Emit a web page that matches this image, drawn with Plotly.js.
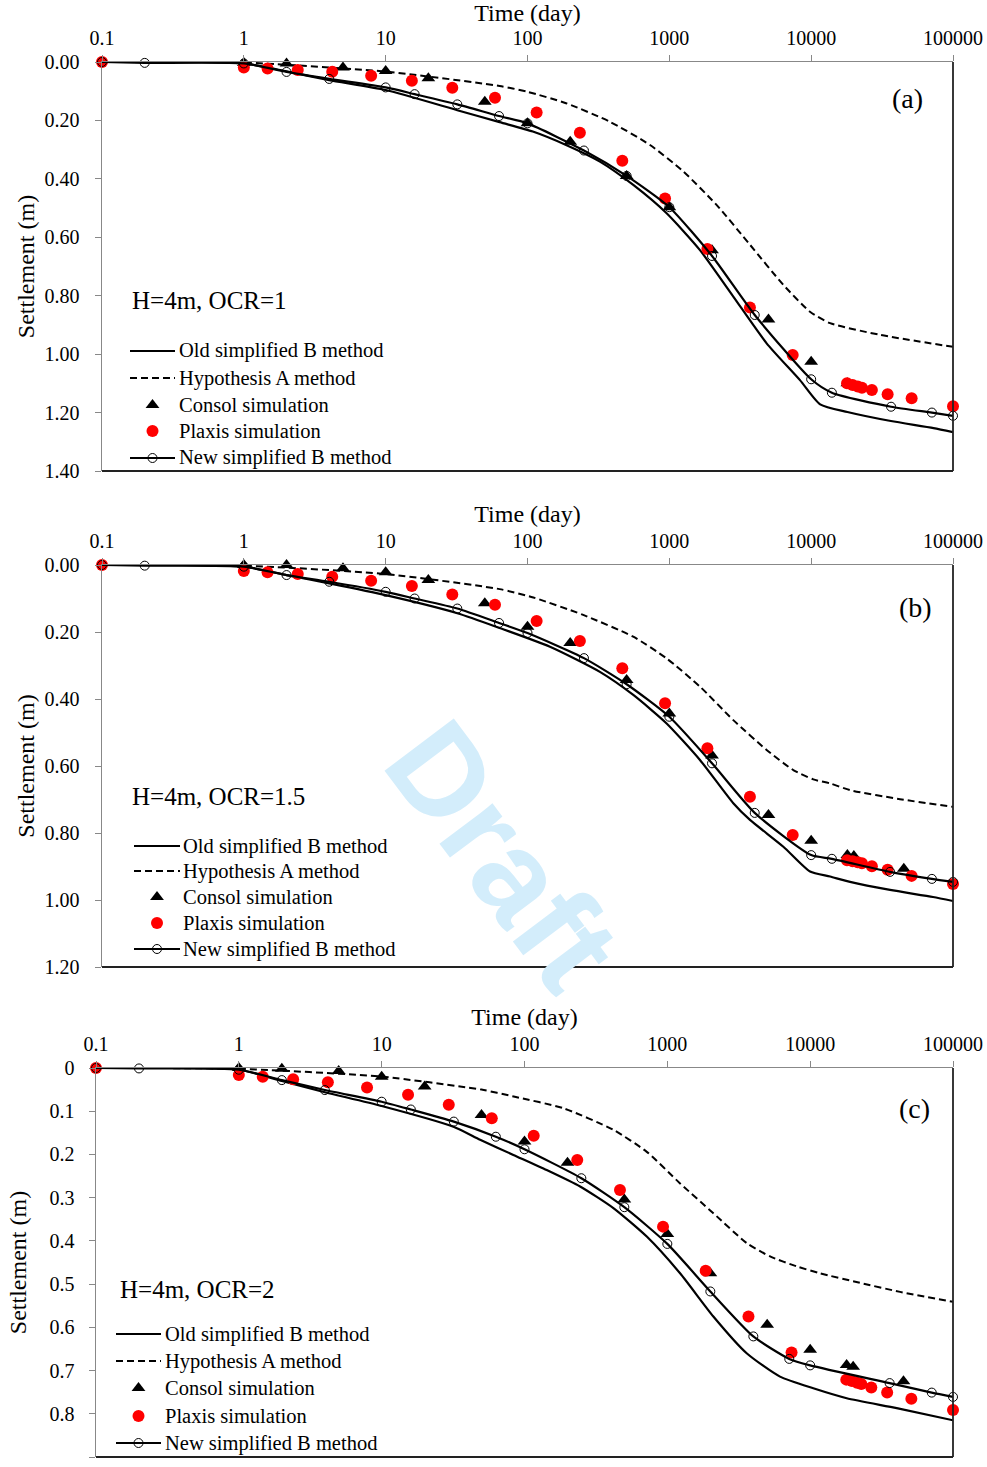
<!DOCTYPE html>
<html><head><meta charset="utf-8">
<script src="https://cdn.plot.ly/plotly-3.0.1.min.js"></script>
<style>html,body{margin:0;padding:0;background:#fff;overflow:hidden}#chart{width:987px;height:1467px}</style>
</head><body><div id="chart"></div>
<script>
// ---------- tick labels ----------
const xTickVals = [0.1, 1, 10, 100, 1000, 10000, 100000];
const xTickText = ['0.1', '1', '10', '100', '1000', '10000', '100000'];
const yTickValsA = [0, 0.2, 0.4, 0.6, 0.8, 1.0, 1.2, 1.4];
const yTickTextA = ['0.00', '0.20', '0.40', '0.60', '0.80', '1.00', '1.20', '1.40'];
const yTickValsB = [0, 0.2, 0.4, 0.6, 0.8, 1.0, 1.2];
const yTickTextB = ['0.00', '0.20', '0.40', '0.60', '0.80', '1.00', '1.20'];
const yTickValsC = [0, 0.1, 0.2, 0.3, 0.4, 0.5, 0.6, 0.7, 0.8, 0.9];
const yTickTextC = ['0', '0.1', '0.2', '0.3', '0.4', '0.5', '0.6', '0.7', '0.8', '0.9'];

const seriesNames = ['Old simplified B method', 'Hypothesis A method', 'Consol simulation', 'Plaxis simulation', 'New simplified B method'];
const panelLabels = ['(a)', '(b)', '(c)'];
const caseLabels = ['H=4m, OCR=1', 'H=4m, OCR=1.5', 'H=4m, OCR=2'];

// ---------- shared times ----------
const tPlaxis = [0.1, 1, 1.47, 2.4, 4.2, 7.9, 15.3, 29.5, 59, 116, 234, 466, 933, 1855, 3700, 7410, 17900, 19600, 21300, 22800, 26800, 34600, 51100, 100000];
const tConsol = [1, 2, 5, 10, 20, 50, 100, 200, 500, 1000, 2000, 5000, 10000, 18000, 20000, 45000];

// ---------- panel (a) OCR=1 ----------
const aOldT = [0.1, 1, 2, 4, 10, 32, 63.6, 109, 187, 324, 557, 957, 1644, 2825, 4853, 8337, 11570, 18000, 36500, 72900, 100000];
const aOldS = [0, 0.005, 0.032, 0.062, 0.096, 0.165, 0.206, 0.238, 0.284, 0.341, 0.421, 0.518, 0.644, 0.803, 0.963, 1.089, 1.172, 1.198, 1.229, 1.253, 1.267];
const aHypT = [0.1, 1, 10, 63.6, 100, 187, 379, 731, 1257, 2160, 3710, 6370, 9810, 13600, 30600, 100000];
const aHypS = [0, 0.002, 0.033, 0.082, 0.102, 0.141, 0.204, 0.284, 0.375, 0.490, 0.626, 0.763, 0.855, 0.894, 0.934, 0.975];
const aConsolT = [1, 2, 5, 10, 20, 50, 100, 200, 500, 1000, 2000, 5000, 10000, 18000];
const aConsolS = [0.003, 0.005, 0.019, 0.031, 0.056, 0.136, 0.21, 0.273, 0.39, 0.497, 0.644, 0.881, 1.026, 1.10];
const aPlaxisS = [0, 0.019, 0.022, 0.027, 0.033, 0.047, 0.064, 0.088, 0.122, 0.173, 0.242, 0.338, 0.467, 0.640, 0.840, 1.003, 1.100, 1.106, 1.111, 1.115, 1.123, 1.137, 1.151, 1.178];
const aNewT = [0.1, 0.2, 1, 2, 4, 10, 16, 32, 63, 100, 250, 500, 1000, 2000, 4000, 10000, 14000, 36600, 71000, 100000];
const aNewS = [0, 0.003, 0.005, 0.034, 0.058, 0.087, 0.110, 0.145, 0.185, 0.21, 0.303, 0.39, 0.497, 0.664, 0.866, 1.086, 1.132, 1.18, 1.20, 1.211];

// ---------- panel (b) OCR=1.5 ----------
const bOldT = [0.1, 1, 2, 4, 10, 32, 63.6, 144, 324, 557, 957, 1644, 2825, 3704, 6368, 9820, 13600, 18800, 36000, 72300, 100000];
const bOldS = [0, 0.005, 0.03, 0.055, 0.09, 0.144, 0.188, 0.244, 0.319, 0.388, 0.473, 0.582, 0.711, 0.761, 0.841, 0.915, 0.930, 0.946, 0.970, 0.991, 1.003];
const bHypT = [0.1, 1, 10, 63.6, 110, 247, 557, 957, 1644, 2825, 4853, 7480, 10350, 13600, 18800, 42300, 100000];
const bHypS = [0, 0.002, 0.027, 0.072, 0.097, 0.149, 0.214, 0.279, 0.363, 0.463, 0.552, 0.612, 0.640, 0.652, 0.672, 0.699, 0.722];
const bConsolS = [0, 0, 0.01, 0.022, 0.045, 0.114, 0.184, 0.233, 0.343, 0.443, 0.569, 0.746, 0.823, 0.866, 0.869, 0.907];
const bPlaxisS = [0, 0.018, 0.022, 0.027, 0.035, 0.047, 0.063, 0.088, 0.119, 0.167, 0.227, 0.308, 0.413, 0.547, 0.692, 0.806, 0.881, 0.884, 0.887, 0.890, 0.899, 0.910, 0.928, 0.952];
const bNewT = [0.1, 0.2, 1, 2, 4, 10, 16, 32, 63, 100, 250, 500, 1000, 2000, 4000, 10000, 14000, 36000, 71000, 100000];
const bNewS = [0, 0.002, 0.005, 0.03, 0.05, 0.08, 0.10, 0.13, 0.173, 0.203, 0.278, 0.356, 0.453, 0.592, 0.74, 0.866, 0.877, 0.916, 0.937, 0.946];

// ---------- panel (c) OCR=2 ----------
const cOldT = [0.1, 1, 2, 4, 10, 31.8, 48.9, 83.6, 143, 245, 419, 718, 1228, 2100, 3593, 6150, 10520, 18030, 40360, 100000];
const cOldS = [0, 0.004, 0.03, 0.056, 0.088, 0.136, 0.166, 0.201, 0.236, 0.274, 0.324, 0.390, 0.475, 0.575, 0.660, 0.714, 0.741, 0.764, 0.787, 0.815];
const cHypT = [0.1, 1, 10, 50, 84, 187, 419, 718, 1228, 2100, 3593, 5240, 8050, 11720, 22300, 42600, 100000];
const cHypS = [0, 0.002, 0.02, 0.05, 0.066, 0.093, 0.143, 0.194, 0.267, 0.336, 0.405, 0.436, 0.459, 0.475, 0.497, 0.518, 0.541];
const cConsolS = [0, 0.002, 0.007, 0.02, 0.043, 0.109, 0.170, 0.219, 0.304, 0.384, 0.475, 0.594, 0.652, 0.687, 0.691, 0.725];
const cPlaxisS = [0, 0.016, 0.02, 0.026, 0.033, 0.045, 0.062, 0.085, 0.116, 0.157, 0.213, 0.282, 0.367, 0.469, 0.575, 0.658, 0.721, 0.724, 0.728, 0.731, 0.739, 0.751, 0.765, 0.791];
const cNewT = [0.1, 0.2, 1, 2, 4, 10, 16, 32, 63, 100, 250, 500, 1000, 2000, 4000, 7140, 10000, 36000, 71000, 100000];
const cNewS = [0, 0.001, 0.004, 0.028, 0.051, 0.078, 0.096, 0.124, 0.159, 0.188, 0.255, 0.322, 0.407, 0.517, 0.621, 0.673, 0.688, 0.729, 0.751, 0.761];

// ---------- build ----------
const FONT = 'Liberation Serif, Times New Roman, serif';
const W = 987, H = 1467;
const px2x = p => p / W;
const px2y = p => 1 - p / H;

const panels = [
  {old: [aOldT, aOldS], hyp: [aHypT, aHypS], con: [aConsolT, aConsolS], pla: [tPlaxis, aPlaxisS], nw: [aNewT, aNewS]},
  {old: [bOldT, bOldS], hyp: [bHypT, bHypS], con: [tConsol, bConsolS], pla: [tPlaxis, bPlaxisS], nw: [bNewT, bNewS]},
  {old: [cOldT, cOldS], hyp: [cHypT, cHypS], con: [tConsol, cConsolS], pla: [tPlaxis, cPlaxisS], nw: [cNewT, cNewS]}
];

const solidLine = {color: '#000', width: 2.2, shape: 'spline', smoothing: 0.6};
const dashLine = {color: '#000', width: 2, dash: '7px,4px', shape: 'spline', smoothing: 0.6};
const triMarker = {symbol: 'triangle-up', size: 12, color: '#000'};
const dotMarker = {symbol: 'circle', size: 12, color: '#ff0000'};
const ringMarker = {symbol: 'circle-open', size: 9, color: '#000', line: {width: 1, color: '#000'}};

const traces = [];
panels.forEach((p, i) => {
  const sfx = i === 0 ? '' : String(i + 1);
  const common = {xaxis: 'x' + sfx, yaxis: 'y' + sfx, showlegend: false, hoverinfo: 'skip', cliponaxis: false, type: 'scatter'};
  traces.push(Object.assign({mode: 'lines', name: seriesNames[0], x: p.old[0], y: p.old[1], line: solidLine}, common));
  traces.push(Object.assign({mode: 'lines', name: seriesNames[1], x: p.hyp[0], y: p.hyp[1], line: dashLine}, common));
  traces.push(Object.assign({mode: 'markers', name: seriesNames[2], x: p.con[0], y: p.con[1], marker: triMarker}, common));
  traces.push(Object.assign({mode: 'markers', name: seriesNames[3], x: p.pla[0], y: p.pla[1], marker: dotMarker}, common));
  traces.push(Object.assign({mode: 'lines+markers', name: seriesNames[4], x: p.nw[0], y: p.nw[1], line: solidLine, marker: ringMarker}, common));
});

// geometry of the three plot areas and their legends (pixels)
const boxes = [
  {l: 102, r: 953, t: 62, b: 471, range: [1.4, 0], tv: yTickValsA, tt: yTickTextA, tls: 11, yst: 3,
   legLine: [130, 175], legText: 177, legRows: [351, 378, 405, 431, 458], case: [130, 300], lab: [907, 98]},
  {l: 102, r: 953, t: 565, b: 967, range: [1.2, 0], tv: yTickValsB, tt: yTickTextB, tls: 11, yst: 3,
   legLine: [134, 180], legText: 181, legRows: [846, 871, 897, 923, 949], case: [130, 796], lab: [915, 608]},
  {l: 96, r: 953, t: 1068, b: 1457, range: [0.9, 0], tv: yTickValsC, tt: yTickTextC, tls: 10, yst: 16,
   legLine: [116, 161], legText: 163, legRows: [1334, 1361, 1388, 1416, 1443], case: [118, 1289], lab: [914, 1108]}
];

const layout = {
  width: W, height: H,
  margin: {l: 0, r: 0, t: 0, b: 0},
  paper_bgcolor: '#fff', plot_bgcolor: 'rgba(0,0,0,0)',
  showlegend: false,
  shapes: [], annotations: []
};

function pline(x0, x1, y, dash) {
  return {type: 'line', xref: 'paper', yref: 'paper', x0: px2x(x0), x1: px2x(x1), y0: px2y(y), y1: px2y(y),
    line: {color: '#000', width: 2.2, dash: dash || 'solid'}};
}
function pcircle(cx, cy, r, fill, lineW) {
  return {type: 'circle', xref: 'paper', yref: 'paper', x0: px2x(cx - r), x1: px2x(cx + r), y0: px2y(cy + r), y1: px2y(cy - r),
    fillcolor: fill, line: {color: fill === '#ff0000' ? '#ff0000' : '#000', width: lineW}};
}
function ptri(cx, cy) {
  const r = 6, rt = r * 2 / Math.sqrt(3);
  const pts = [[cx - rt, cy + r / 2], [cx + rt, cy + r / 2], [cx, cy - r]];
  const path = 'M' + pts.map(q => px2x(q[0]) + ',' + px2y(q[1])).join(' L') + ' Z';
  return {type: 'path', xref: 'paper', yref: 'paper', path: path, fillcolor: '#000', line: {color: '#000', width: 0}};
}

boxes.forEach((bx, i) => {
  const sfx = i === 0 ? '' : String(i + 1);
  layout['xaxis' + sfx] = {
    type: 'log', range: [-1, 5], domain: [px2x(bx.l), px2x(bx.r)], anchor: 'y' + sfx, side: 'top',
    tickmode: 'array', tickvals: xTickVals, ticktext: xTickText,
    ticks: 'outside', ticklen: 6, tickwidth: 1, tickcolor: '#888',
    showline: true, linecolor: '#888', linewidth: 1.5, showgrid: false, zeroline: false,
    tickfont: {family: FONT, size: 20, color: '#000'}, ticklabelstandoff: 2,
    title: {text: 'Time (day)', font: {family: FONT, size: 24, color: '#000'}, standoff: 0},
    automargin: false
  };
  layout['yaxis' + sfx] = {
    range: bx.range, domain: [px2y(bx.b), px2y(bx.t)], anchor: 'x' + sfx,
    tickmode: 'array', tickvals: bx.tv, ticktext: bx.tt,
    ticks: 'outside', ticklen: 6, tickwidth: 1, tickcolor: '#888',
    showline: true, linecolor: '#888', linewidth: 1.5, showgrid: false, zeroline: false,
    tickfont: {family: FONT, size: 20, color: '#000'}, ticklabelstandoff: bx.tls,
    title: {text: 'Settlement (m)', font: {family: FONT, size: 24, color: '#000'}, standoff: bx.yst},
    automargin: false
  };
  // right and bottom frame
  layout.shapes.push({type: 'line', xref: 'x' + sfx + ' domain', yref: 'y' + sfx + ' domain', x0: 1, x1: 1, y0: 0, y1: 1, line: {color: '#222', width: 1.8}});
  layout.shapes.push({type: 'line', xref: 'x' + sfx + ' domain', yref: 'y' + sfx + ' domain', x0: 0, x1: 1, y0: 0, y1: 0, line: {color: '#222', width: 1.8}});

  // legend (drawn as glyphs + text)
  const [lx0, lx1] = bx.legLine, cx = (lx0 + lx1) / 2, rows = bx.legRows;
  layout.shapes.push(pline(lx0, lx1, rows[0]));
  layout.shapes.push(pline(lx0, lx1, rows[1], '7px,4px'));
  layout.shapes.push(ptri(cx, rows[2]));
  layout.shapes.push(pcircle(cx, rows[3], 6, '#ff0000', 0));
  layout.shapes.push(pline(lx0, lx1, rows[4]));
  layout.shapes.push(pcircle(cx, rows[4], 4.5, 'rgba(0,0,0,0)', 1));
  seriesNames.forEach((nm, k) => {
    layout.annotations.push({xref: 'paper', yref: 'paper', x: px2x(bx.legText), y: px2y(rows[k]), xanchor: 'left', yanchor: 'middle',
      text: nm, showarrow: false, font: {family: FONT, size: 20.5, color: '#000'}});
  });

  layout.annotations.push({xref: 'paper', yref: 'paper', x: px2x(bx.case[0]), y: px2y(bx.case[1]), xanchor: 'left', yanchor: 'middle',
    text: caseLabels[i], showarrow: false, font: {family: FONT, size: 25, color: '#000'}});
  layout.annotations.push({xref: 'paper', yref: 'paper', x: px2x(bx.lab[0]), y: px2y(bx.lab[1]), xanchor: 'center', yanchor: 'middle',
    text: panelLabels[i], showarrow: false, font: {family: FONT, size: 28, color: '#000'}});
});

// watermark
layout.annotations.push({xref: 'paper', yref: 'paper', x: px2x(503), y: px2y(855), xanchor: 'center', yanchor: 'middle',
  text: '<b>Draft</b>', textangle: 53, showarrow: false,
  font: {family: 'Liberation Sans, Arial, sans-serif', size: 126, color: '#d3edfb'}});

Plotly.newPlot('chart', traces, layout, {staticPlot: true, displayModeBar: false});
</script>
</body></html>
